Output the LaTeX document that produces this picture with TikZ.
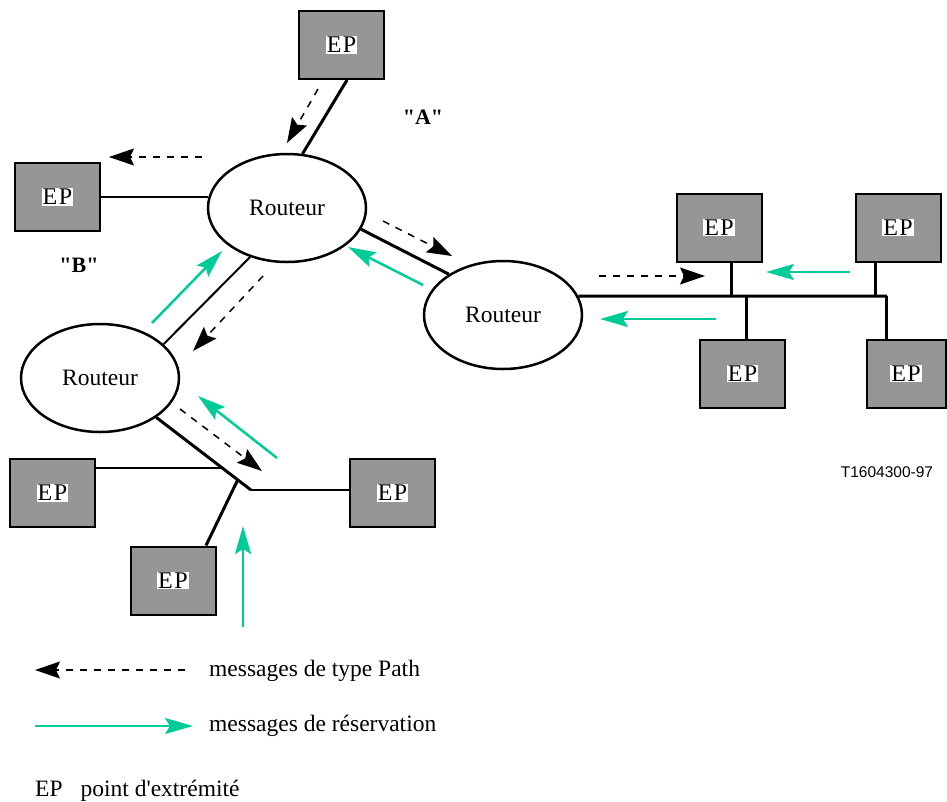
\documentclass[tikz,border=0pt]{standalone}
\usepackage{fontspec}
\setmainfont{Liberation Serif}
\newfontfamily\helv{Liberation Sans}
\usetikzlibrary{shapes.geometric,arrows.meta,calc}
\definecolor{epgray}{RGB}{150,150,150}
\definecolor{resgreen}{RGB}{0,204,153}
\newcommand\eptxt{{\fboxsep=1pt\colorbox{white}{E\kern1.5pt P}}}
\begin{document}
\begin{tikzpicture}[x=1pt,y=-1pt,
  ep/.style={draw, line width=2pt, fill=epgray, minimum width=85pt, minimum height=68pt, inner sep=0pt, font=\fontsize{24}{26}\selectfont},
  router/.style={draw, ellipse, line width=2.5pt, minimum width=158pt, minimum height=108pt, inner sep=0pt, font=\fontsize{23.5}{26}\selectfont},
  link/.style={line width=3pt},
  thinlink/.style={line width=2pt},
  pathmsg/.style={line width=1.5pt, dash pattern=on 7pt off 7pt, -{Stealth[length=25pt,width=17pt,inset=4pt]}},
  resmsg/.style={line width=2.5pt, color=resgreen, -{Stealth[length=28pt,width=16pt,inset=5pt]}},
  lbl/.style={font=\fontsize{23.5}{26}\selectfont, inner sep=0pt, anchor=base west}
]
\useasboundingbox (0,0) rectangle (947,801);

% nodes
\node[ep] (epA) at (341.5,45) {\eptxt};
\node[ep] (epB) at (57.5,197) {\eptxt};
\node[router] (r1) at (287,208) {Routeur};
\node[router] (r2) at (100,378) {Routeur};
\node[router] (r3) at (503,315) {Routeur};
\node[ep] (epL) at (52.5,493) {\eptxt};
\node[ep] (epR) at (392.5,493) {\eptxt};
\node[ep] (epD) at (173,580.5) {\eptxt};
\node[ep] (epT1) at (719,227.5) {\eptxt};
\node[ep] (epT2) at (898,227.5) {\eptxt};
\node[ep] (epB1) at (742.5,373.5) {\eptxt};
\node[ep, minimum width=79pt] (epB2) at (906,373.5) {\eptxt};

\node[font=\bfseries\fontsize{22}{26}\selectfont] (lblA) at (423,117) {\textquotedbl A\textquotedbl};
\node[font=\bfseries\fontsize{22}{26}\selectfont] (lblB) at (79,265) {\textquotedbl B\textquotedbl};

% links
\draw[link] ($(epA.south)+(5.5,0)$) -- (r1.74);
\draw[thinlink] (epB.east) -- (epB.east -| r1.172);
\draw[link] (r1.-16) -- (r3.143);
\draw[thinlink] (r1.233) -- (r2.28);
\coordinate (J) at (251,490);
\draw[link] (r2.-35) -- (J);
\draw[thinlink] (J) -- (J -| epR.west);
\coordinate (D1) at ($(r2.-35)!0.7!(J)$);
\draw[thinlink] (D1) -- (D1 -| epL.east);
\coordinate (D2) at ($(r2.-35)!0.86!(J)$);
\draw[link] (D2) -- ($(epD.north)+(33,0)$);

\coordinate (busE) at (887,296);
\draw[link] (r3.14) -- (busE);
\coordinate (s1) at ($(epT1.south)+(12,0)$);
\coordinate (s2) at ($(epT2.south)+(-23,0)$);
\coordinate (s3) at ($(epB1.north)+(3.5,0)$);
\coordinate (s4) at ($(epB2.north)+(-20,0)$);
\draw[link] (s1) -- (s1 |- busE);
\draw[link] (s2) -- (s2 |- busE);
\draw[link] (s3) -- (s3 |- busE);
\draw[link] (s4) -- (s4 |- busE);

% messages
\draw[pathmsg] (318,89) -- (287,143);
\draw[pathmsg] (202,157) -- (109,157);
\draw[pathmsg] (383,221) -- (452,256);
\draw[resmsg] (423,285) -- (348,247);
\draw[pathmsg] (263,276) -- (193,351);
\draw[resmsg] (152,323) -- (222,251);
\draw[pathmsg] (180,409) -- (262,471);
\draw[resmsg] (277,458) -- (198,396);
\draw[resmsg] (243,627) -- (243,526);
\draw[pathmsg] (599,276) -- (705,276);
\draw[resmsg] (850,272) -- (766,272);
\draw[resmsg] (716,319) -- (600,319);

\node[font=\helv\fontsize{15.5}{18}\selectfont] (ref) at (887,472) {T1604300-97};

% legend
\draw[pathmsg] (185,670) -- (35,670);
\node[lbl] (l1) at (209,676) {messages de type Path};
\draw[resmsg] (35,726) -- (193,726);
\node[lbl] (l2) at (209,731) {messages de réservation};
\node[lbl] (l3) at (35,796) {EP\hspace{18pt}point d\textquotesingle extrémité};
\end{tikzpicture}
\end{document}
